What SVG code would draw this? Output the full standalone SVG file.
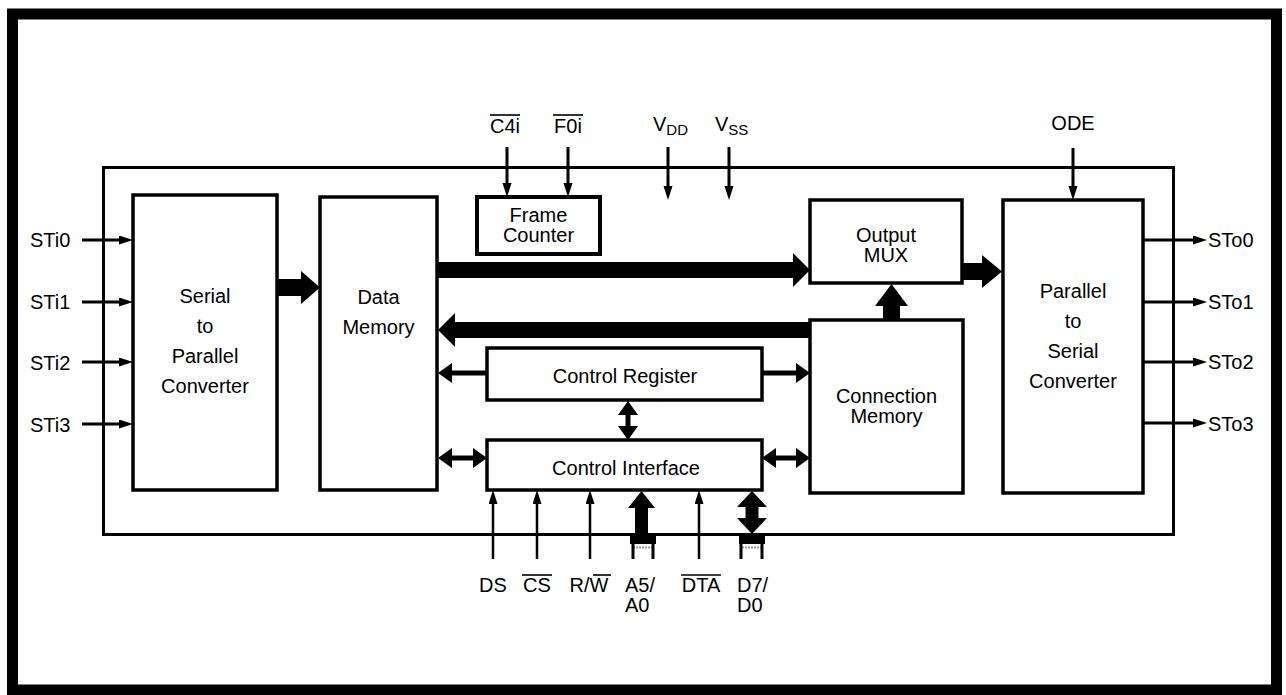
<svg xmlns="http://www.w3.org/2000/svg" width="1286" height="695" viewBox="0 0 1286 695">
<style>
  .box{fill:#fff;stroke:#000;stroke-width:3.5}
  .t{font-family:"Liberation Sans",Arial,Helvetica,sans-serif;font-size:20px;fill:#000}
  .c{text-anchor:middle}
  .sub{font-size:15px}
  .thin{stroke:#000;stroke-width:3;fill:none}
  .sig{stroke:#000;stroke-width:2.5;fill:none}
  .med{stroke:#000;stroke-width:5;fill:none}
  .ov{stroke:#000;stroke-width:1.6}
  .bus{fill:#000}
</style>
<defs>
  <marker id="as" markerUnits="userSpaceOnUse" markerWidth="15" markerHeight="10" refX="1" refY="4.5" orient="auto-start-reverse">
    <path d="M0,0 L14,4.5 L0,9 z" fill="#000"/>
  </marker>
  <marker id="am" markerUnits="userSpaceOnUse" markerWidth="16" markerHeight="21" refX="1" refY="10" orient="auto-start-reverse">
    <path d="M0,0 L14,10 L0,20 z" fill="#000"/>
  </marker>
</defs>
<rect width="1286" height="695" fill="#fff"/>
<!-- outer frame -->
<rect x="12.5" y="14" width="1264" height="676" fill="none" stroke="#000" stroke-width="11"/>
<!-- chip boundary -->
<rect x="103.5" y="167.5" width="1070" height="367" fill="none" stroke="#000" stroke-width="3"/>

<g id="serial-to-parallel">
  <rect class="box" x="133" y="195" width="144" height="295"/>
  <text class="t c" x="205" y="303">Serial</text>
  <text class="t c" x="205" y="333">to</text>
  <text class="t c" x="205" y="363">Parallel</text>
  <text class="t c" x="205" y="393">Converter</text>
</g>
<g id="data-memory">
  <rect class="box" x="320" y="197" width="117" height="293"/>
  <text class="t c" x="378.5" y="304">Data</text>
  <text class="t c" x="378.5" y="334">Memory</text>
</g>
<g id="frame-counter">
  <rect class="box" x="477" y="197" width="123" height="57" style="stroke-width:4"/>
  <text class="t c" x="538.5" y="222">Frame</text>
  <text class="t c" x="538.5" y="242">Counter</text>
</g>
<g id="output-mux">
  <rect class="box" x="810" y="200" width="152" height="83"/>
  <text class="t c" x="886" y="242">Output</text>
  <text class="t c" x="886" y="262">MUX</text>
</g>
<g id="connection-memory">
  <rect class="box" x="810" y="320" width="153" height="173"/>
  <text class="t c" x="886.5" y="403">Connection</text>
  <text class="t c" x="886.5" y="423">Memory</text>
</g>
<g id="parallel-to-serial">
  <rect class="box" x="1003" y="200" width="140" height="293"/>
  <text class="t c" x="1073" y="298">Parallel</text>
  <text class="t c" x="1073" y="328">to</text>
  <text class="t c" x="1073" y="358">Serial</text>
  <text class="t c" x="1073" y="388">Converter</text>
</g>
<g id="control-register">
  <rect class="box" x="487" y="348" width="275" height="52"/>
  <text class="t c" x="625" y="383">Control Register</text>
</g>
<g id="control-interface">
  <rect class="box" x="487" y="440" width="275" height="50"/>
  <text class="t c" x="626" y="475">Control Interface</text>
</g>

<g id="connectors">
  <!-- inputs STi -->
  <line class="thin" x1="82" y1="240" x2="120" y2="240" marker-end="url(#as)"/>
  <line class="thin" x1="82" y1="302" x2="120" y2="302" marker-end="url(#as)"/>
  <line class="thin" x1="82" y1="362" x2="120" y2="362" marker-end="url(#as)"/>
  <line class="thin" x1="82" y1="424" x2="120" y2="424" marker-end="url(#as)"/>
  <!-- outputs STo -->
  <line class="thin" x1="1143" y1="240" x2="1194" y2="240" marker-end="url(#as)"/>
  <line class="thin" x1="1143" y1="302" x2="1194" y2="302" marker-end="url(#as)"/>
  <line class="thin" x1="1143" y1="362" x2="1194" y2="362" marker-end="url(#as)"/>
  <line class="thin" x1="1143" y1="423" x2="1194" y2="423" marker-end="url(#as)"/>
  <!-- top inputs -->
  <line class="thin" x1="507" y1="147" x2="507" y2="184" marker-end="url(#as)"/>
  <line class="thin" x1="568" y1="147" x2="568" y2="184" marker-end="url(#as)"/>
  <line class="thin" x1="668" y1="147" x2="668" y2="187" marker-end="url(#as)"/>
  <line class="thin" x1="729" y1="147" x2="729" y2="187" marker-end="url(#as)"/>
  <line class="thin" x1="1073" y1="148" x2="1073" y2="187" marker-end="url(#as)"/>
  <!-- bottom control signals -->
  <line class="sig" x1="493" y1="559" x2="493" y2="503" marker-end="url(#as)"/>
  <line class="sig" x1="537" y1="559" x2="537" y2="503" marker-end="url(#as)"/>
  <line class="sig" x1="590" y1="559" x2="590" y2="503" marker-end="url(#as)"/>
  <line class="sig" x1="699" y1="559" x2="699" y2="503" marker-end="url(#as)"/>
  <!-- thick buses -->
  <polygon points="277,279 301,279 301,271 320,287.5 301,304 301,296 277,296"/>
  <polygon points="437,262 793,262 793,253 810,270 793,287 793,278 437,278"/>
  <polygon points="810,322 455,322 455,313 438,330 455,347 455,338 810,338"/>
  <polygon points="883,320 883,306 875,306 891.5,284 908,306 900,306 900,320"/>
  <polygon points="962,263 982,263 982,255 1002,271.5 982,288 982,280 962,280"/>
  <!-- medium arrows -->
  <line class="med" x1="487" y1="373" x2="451" y2="373" marker-end="url(#am)"/>
  <line class="med" x1="762" y1="373" x2="797" y2="373" marker-end="url(#am)"/>
  <line class="med" x1="451" y1="458" x2="474" y2="458" marker-start="url(#am)" marker-end="url(#am)"/>
  <line class="med" x1="775" y1="458" x2="797" y2="458" marker-start="url(#am)" marker-end="url(#am)"/>
  <line class="med" x1="628" y1="414" x2="628" y2="427" marker-start="url(#am)" marker-end="url(#am)"/>
  <!-- address bus A5/A0 -->
  <polygon points="635,536 635,508 628,508 641.5,491 655,508 648,508 648,536"/>
  <rect class="bus" x="630" y="535" width="26" height="9"/>
  <line x1="633" y1="547.5" x2="653" y2="547.5" stroke="#999" stroke-width="2" stroke-dasharray="2,1"/>
  <line class="thin" x1="633" y1="544" x2="633" y2="559"/>
  <line class="thin" x1="653" y1="544" x2="653" y2="559"/>
  <!-- data bus D7/D0 -->
  <polygon points="745.5,518 745.5,507 737,507 752,491 767,507 758.5,507 758.5,518 767,518 752,534 737,518"/>
  <rect class="bus" x="739" y="535" width="26" height="9"/>
  <line x1="742" y1="547.5" x2="762" y2="547.5" stroke="#999" stroke-width="2" stroke-dasharray="2,1"/>
  <line class="thin" x1="741" y1="544" x2="741" y2="559"/>
  <line class="thin" x1="762" y1="544" x2="762" y2="559"/>
</g>

<g id="labels">
  <text class="t" x="30" y="247">STi0</text>
  <text class="t" x="30" y="309">STi1</text>
  <text class="t" x="30" y="370">STi2</text>
  <text class="t" x="30" y="432">STi3</text>
  <text class="t" x="1208" y="247">STo0</text>
  <text class="t" x="1208" y="309">STo1</text>
  <text class="t" x="1208" y="369">STo2</text>
  <text class="t" x="1208" y="431">STo3</text>
  <text class="t c" x="505" y="133">C4i</text>
  <line class="ov" x1="490" y1="115" x2="520" y2="115"/>
  <text class="t c" x="568" y="133">F0i</text>
  <line class="ov" x1="553" y1="115" x2="583" y2="115"/>
  <text class="t" x="653" y="131">V<tspan class="sub" dy="4">DD</tspan></text>
  <text class="t" x="715" y="131">V<tspan class="sub" dy="4">SS</tspan></text>
  <text class="t c" x="1073" y="130">ODE</text>
  <text class="t c" x="493" y="592">DS</text>
  <text class="t c" x="537" y="592">CS</text>
  <line class="ov" x1="522" y1="575" x2="552" y2="575"/>
  <text class="t c" x="589" y="592">R/W</text>
  <line class="ov" x1="593" y1="575" x2="611" y2="575"/>
  <text class="t" x="625" y="592">A5/</text>
  <text class="t" x="625" y="612">A0</text>
  <text class="t c" x="701" y="592">DTA</text>
  <line class="ov" x1="681" y1="575" x2="721" y2="575"/>
  <text class="t" x="737" y="592">D7/</text>
  <text class="t" x="737" y="612">D0</text>
</g>
</svg>
